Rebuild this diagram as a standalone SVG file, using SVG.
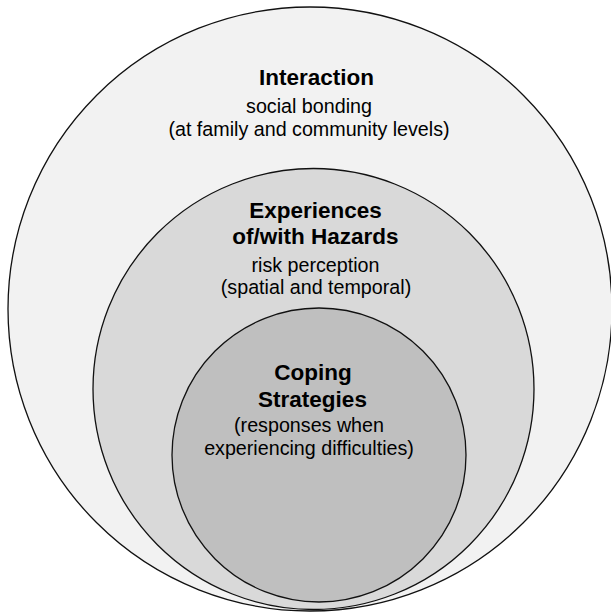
<svg xmlns="http://www.w3.org/2000/svg" width="611" height="614" viewBox="0 0 611 614">
<style>
.ring{stroke:#111;stroke-width:1.3}
.t{font-family:"Liberation Sans",Arial,sans-serif;fill:#000;text-anchor:middle}
.b{font-weight:bold;font-size:22.5px}
.r{font-size:19.7px}
</style>
<rect width="611" height="614" fill="#ffffff"/>
<g id="interaction">
<circle class="ring" cx="310" cy="309" r="302" fill="#f2f2f2"/>
<text class="t b" x="316.5" y="85">Interaction</text>
<text class="t r" x="309" y="113">social bonding</text>
<text class="t r" x="309" y="136">(at family and community levels)</text>
</g>
<g id="experiences">
<circle class="ring" cx="313.5" cy="389" r="220.5" fill="#d9d9d9"/>
<text class="t b" x="315.5" y="218">Experiences</text>
<text class="t b" x="315.5" y="244">of/with Hazards</text>
<text class="t r" x="315.5" y="272">risk perception</text>
<text class="t r" x="316" y="294">(spatial and temporal)</text>
</g>
<g id="coping">
<circle class="ring" cx="319" cy="455" r="147" fill="#bfbfbf"/>
<text class="t b" x="313" y="380">Coping</text>
<text class="t b" x="312.5" y="407">Strategies</text>
<text class="t r" x="309" y="432">(responses when</text>
<text class="t r" x="309" y="455">experiencing difficulties)</text>
</g>
<g id="connectors"/>
</svg>
